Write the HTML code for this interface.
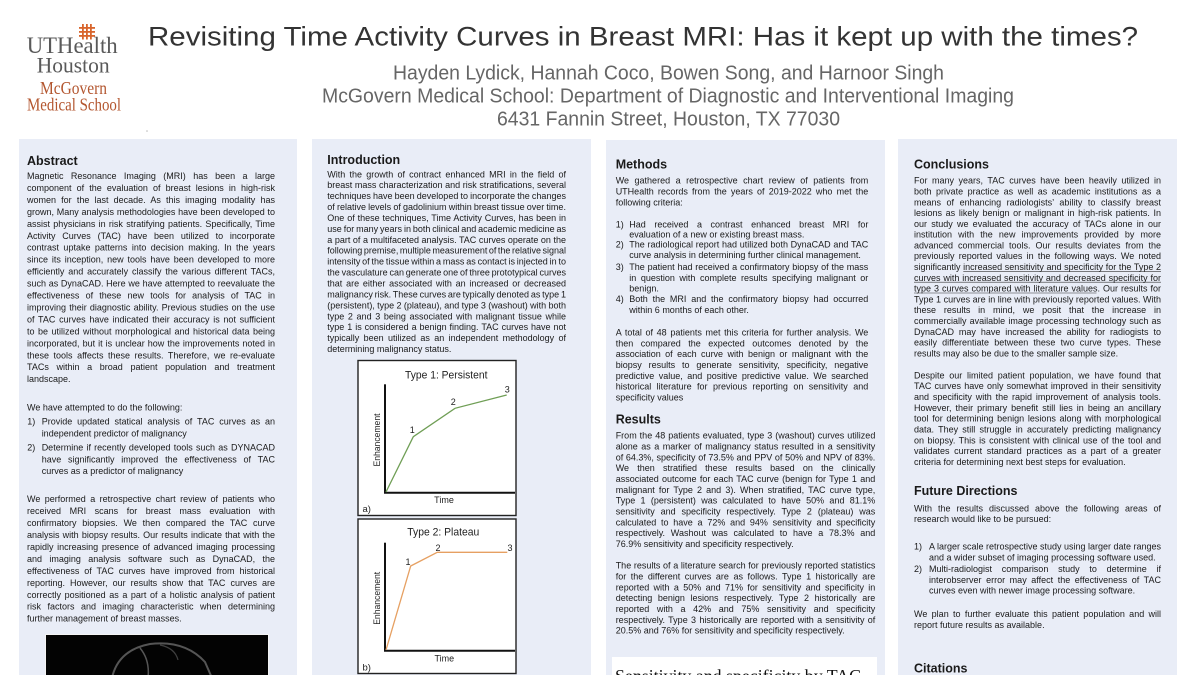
<!DOCTYPE html>
<html>
<head>
<meta charset="utf-8">
<style>
html,body{margin:0;padding:0;background:#fff;}
body{width:1200px;height:675px;overflow:hidden;}
svg{display:block;}
.b{font-family:"Liberation Sans",Arial,sans-serif;font-size:9px;fill:#1a1a1a;}
.h{font-family:"Liberation Sans",Arial,sans-serif;font-size:12.5px;font-weight:bold;fill:#1a1a1a;}
.c{font-family:"Liberation Sans",Arial,sans-serif;fill:#222;}
.s{font-family:"Liberation Serif","Times New Roman",serif;}
</style>
</head>
<body>
<svg width="1200" height="675" viewBox="0 0 1200 675" xmlns="http://www.w3.org/2000/svg">
<rect x="0" y="0" width="1200" height="675" fill="#fff"/>

<!-- Logo -->
<g fill="#d8652d">
<rect x="82" y="24" width="1.8" height="15.5"/>
<rect x="86" y="24" width="1.8" height="15.5"/>
<rect x="90" y="24" width="1.8" height="15.5"/>
<rect x="79" y="27" width="16" height="1.8"/>
<rect x="79" y="31" width="16" height="1.8"/>
<rect x="79" y="35" width="16" height="1.8"/>
</g>
<text class="s" x="26.7" y="53" font-size="23" fill="#595959" textLength="91" lengthAdjust="spacingAndGlyphs">UTHealth</text>
<text class="s" x="36.7" y="72.5" font-size="22" fill="#595959" textLength="73" lengthAdjust="spacingAndGlyphs">Houston</text>
<text class="s" x="40" y="94" font-size="17.5" fill="#b3562f" textLength="67" lengthAdjust="spacingAndGlyphs">McGovern</text>
<text class="s" x="27" y="110.5" font-size="17.5" fill="#b3562f" textLength="94" lengthAdjust="spacingAndGlyphs">Medical School</text>
<circle cx="147" cy="131" r="0.8" fill="#bbb"/>

<!-- Title -->
<text class="c" x="148" y="45.7" font-size="27" style="fill:#333" textLength="990" lengthAdjust="spacingAndGlyphs">Revisiting Time Activity Curves in Breast MRI: Has it kept up with the times?</text>
<text class="c" x="393" y="79.3" font-size="20" style="fill:#666" textLength="551" lengthAdjust="spacingAndGlyphs">Hayden Lydick, Hannah Coco, Bowen Song, and Harnoor Singh</text>
<text class="c" x="322" y="102.3" font-size="20" style="fill:#666" textLength="692" lengthAdjust="spacingAndGlyphs">McGovern Medical School: Department of Diagnostic and Interventional Imaging</text>
<text class="c" x="497" y="125.3" font-size="20" style="fill:#666" textLength="343" lengthAdjust="spacingAndGlyphs">6431 Fannin Street, Houston, TX 77030</text>

<!-- Panels -->
<rect x="19" y="139" width="278" height="540" fill="#e9edf7"/>
<rect x="312" y="139" width="279" height="540" fill="#e9edf7"/>
<rect x="606" y="140" width="279" height="540" fill="#e9edf7"/>
<rect x="898" y="139" width="279" height="540" fill="#e9edf7"/>

<!-- Column 1 -->
<text class="h" x="27" y="165.2">Abstract</text>
<g class="b">
<text x="27" y="179" textLength="248">Magnetic Resonance Imaging (MRI) has been a large</text>
<text x="27" y="191" textLength="248">component of the evaluation of breast lesions in high-risk</text>
<text x="27" y="202.9" textLength="248">women for the last decade. As this imaging modality has</text>
<text x="27" y="214.9" textLength="248">grown, Many analysis methodologies have been developed to</text>
<text x="27" y="226.8" textLength="248">assist physicians in risk stratifying patients. Specifically, Time</text>
<text x="27" y="238.8" textLength="248">Activity Curves (TAC) have been utilized to incorporate</text>
<text x="27" y="250.7" textLength="248">contrast uptake patterns into decision making. In the years</text>
<text x="27" y="262.7" textLength="248">since its inception, new tools have been developed to more</text>
<text x="27" y="274.6" textLength="248">efficiently and accurately classify the various different TACs,</text>
<text x="27" y="286.6" textLength="248">such as DynaCAD. Here we have attempted to reevaluate the</text>
<text x="27" y="298.5" textLength="248">effectiveness of these new tools for analysis of TAC in</text>
<text x="27" y="310.5" textLength="248">improving their diagnostic ability. Previous studies on the use</text>
<text x="27" y="322.4" textLength="248">of TAC curves have indicated their accuracy is not sufficient</text>
<text x="27" y="334.4" textLength="248">to be utilized without morphological and historical data being</text>
<text x="27" y="346.3" textLength="248">incorporated, but it is unclear how the improvements noted in</text>
<text x="27" y="358.3" textLength="248">these tools affects these results. Therefore, we re-evaluate</text>
<text x="27" y="370.2" textLength="248">TACs within a broad patient population and treatment</text>
<text x="27" y="382.2">landscape.</text>

<text x="27" y="410.5">We have attempted to do the following:</text>
<text x="27.3" y="424.7">1)</text>
<text x="41.7" y="424.7" textLength="233.3">Provide updated statical analysis of TAC curves as an</text>
<text x="41.7" y="436.3">independent predictor of malignancy</text>
<text x="27.3" y="450.3">2)</text>
<text x="41.7" y="450.3" textLength="233.3">Determine if recently developed tools such as DYNACAD</text>
<text x="41.7" y="462.7" textLength="233.3">have significantly improved the effectiveness of TAC</text>
<text x="41.7" y="474">curves as a predictor of malignancy</text>

<text x="27" y="502" textLength="248">We performed a retrospective chart review of patients who</text>
<text x="27" y="514" textLength="248">received MRI scans for breast mass evaluation with</text>
<text x="27" y="526" textLength="248">confirmatory biopsies. We then compared the TAC curve</text>
<text x="27" y="537.9" textLength="248">analysis with biopsy results. Our results indicate that with the</text>
<text x="27" y="549.9" textLength="248">rapidly increasing presence of advanced imaging processing</text>
<text x="27" y="561.9" textLength="248">and imaging analysis software such as DynaCAD, the</text>
<text x="27" y="573.8" textLength="248">effectiveness of TAC curves have improved from historical</text>
<text x="27" y="585.8" textLength="248">reporting. However, our results show that TAC curves are</text>
<text x="27" y="597.8" textLength="248">correctly positioned as a part of a holistic analysis of patient</text>
<text x="27" y="609.7" textLength="248">risk factors and imaging characteristic when determining</text>
<text x="27" y="621.7">further management of breast masses.</text>
</g>
<!-- MRI image -->
<rect x="45" y="634" width="224" height="45" fill="#f4f4f4"/>
<rect x="46" y="635" width="222" height="44" fill="#030303"/>
<path d="M112 678 Q118 650 150 644 Q185 640 205 662 L212 678" fill="none" stroke="#6a6a6a" stroke-width="2" opacity="0.8"/>
<path d="M140 648 Q150 660 148 678" fill="none" stroke="#7a7a7a" stroke-width="1.5" opacity="0.7"/>
<path d="M160 645 Q175 648 178 660" fill="none" stroke="#5a5a5a" stroke-width="1.2" opacity="0.7"/>

<!-- Column 2 -->
<text class="h" x="327.3" y="163.8">Introduction</text>
<g class="b">
<text x="327.3" y="177.3" textLength="238.7">With the growth of contract enhanced MRI in the field of</text>
<text x="327.3" y="188.2" textLength="238.7">breast mass characterization and risk stratifications, several</text>
<text x="327.3" y="199.1" textLength="238.7">techniques have been developed to incorporate the changes</text>
<text x="327.3" y="210.1" textLength="238.7">of relative levels of gadolinium within breast tissue over time.</text>
<text x="327.3" y="221" textLength="238.7">One of these techniques, Time Activity Curves, has been in</text>
<text x="327.3" y="231.9" textLength="238.7">use for many years in both clinical and academic medicine as</text>
<text x="327.3" y="242.8" textLength="238.7">a part of a multifaceted analysis. TAC curves operate on the</text>
<text x="327.3" y="253.7" textLength="238.7">following premise, multiple measurement of the relative signal</text>
<text x="327.3" y="264.7" textLength="238.7">intensity of the tissue within a mass as contact is injected in to</text>
<text x="327.3" y="275.6" textLength="238.7">the vasculature can generate one of three prototypical curves</text>
<text x="327.3" y="286.5" textLength="238.7">that are either associated with an increased or decreased</text>
<text x="327.3" y="297.4" textLength="238.7">malignancy risk. These curves are typically denoted as type 1</text>
<text x="327.3" y="308.3" textLength="238.7">(persistent), type 2 (plateau), and type 3 (washout) with both</text>
<text x="327.3" y="319.3" textLength="238.7">type 2 and 3 being associated with malignant tissue while</text>
<text x="327.3" y="330.2" textLength="238.7">type 1 is considered a benign finding. TAC curves have not</text>
<text x="327.3" y="341.1" textLength="238.7">typically been utilized as an independent methodology of</text>
<text x="327.3" y="352">determining malignancy status.</text>
</g>

<!-- Chart a -->
<rect x="358" y="360.5" width="158" height="155" fill="#fff" stroke="#222" stroke-width="1.4"/>
<text class="c" x="405" y="378.3" font-size="11" textLength="82.5" lengthAdjust="spacingAndGlyphs">Type 1: Persistent</text>
<line x1="385" y1="384.3" x2="385" y2="493.5" stroke="#111" stroke-width="2"/>
<line x1="384" y1="492.7" x2="515" y2="492.7" stroke="#111" stroke-width="2"/>
<polyline points="386,492 413.3,436.7 455,408.3 506.7,395" fill="none" stroke="#6f9e55" stroke-width="1.3"/>
<text class="c" x="409.7" y="433" font-size="9">1</text>
<text class="c" x="450.8" y="405" font-size="9">2</text>
<text class="c" x="504.8" y="392.5" font-size="9">3</text>
<text class="c" font-size="9" text-anchor="middle" transform="translate(380,440) rotate(-90)" textLength="53" lengthAdjust="spacingAndGlyphs">Enhancement</text>
<text class="c" x="444" y="503" font-size="9" text-anchor="middle">Time</text>
<text class="c" x="362.5" y="512" font-size="9.5">a)</text>

<!-- Chart b -->
<rect x="358" y="519" width="158" height="154.5" fill="#fff" stroke="#222" stroke-width="1.4"/>
<text class="c" x="407.3" y="535.7" font-size="11" textLength="72" lengthAdjust="spacingAndGlyphs">Type 2: Plateau</text>
<line x1="385" y1="542.7" x2="385" y2="651.5" stroke="#111" stroke-width="2"/>
<line x1="384" y1="650.7" x2="515" y2="650.7" stroke="#111" stroke-width="2"/>
<polyline points="386,650 410.7,566 437.3,552.3 507.3,552.3" fill="none" stroke="#e6a062" stroke-width="1.3"/>
<text class="c" x="405.5" y="565" font-size="9">1</text>
<text class="c" x="435.5" y="551" font-size="9">2</text>
<text class="c" x="507.5" y="551" font-size="9">3</text>
<text class="c" font-size="9" text-anchor="middle" transform="translate(380,598.3) rotate(-90)" textLength="53" lengthAdjust="spacingAndGlyphs">Enhancement</text>
<text class="c" x="444.3" y="661.3" font-size="9" text-anchor="middle">Time</text>
<text class="c" x="362.5" y="670.7" font-size="9.5">b)</text>

<!-- Column 3 -->
<text class="h" x="615.7" y="168.5">Methods</text>
<g class="b">
<text x="615.7" y="183.7" textLength="252.6">We gathered a retrospective chart review of patients from</text>
<text x="615.7" y="194.7" textLength="252.6">UTHealth  records from the years of 2019-2022 who met the</text>
<text x="615.7" y="205.7">following criteria:</text>
<text x="615.7" y="227.3">1)</text>
<text x="629.3" y="227.3" textLength="239">Had received a contrast enhanced breast MRI for</text>
<text x="629.3" y="237.3">evaluation of a new or existing breast mass.</text>
<text x="615.7" y="247.7">2)</text>
<text x="629.3" y="247.7" textLength="239">The radiological report had utilized both DynaCAD and TAC</text>
<text x="629.3" y="258">curve analysis in determining further clinical management.</text>
<text x="615.7" y="270.2">3)</text>
<text x="629.3" y="270.2" textLength="239">The patient had received a confirmatory biopsy of the mass</text>
<text x="629.3" y="280.8" textLength="239">in question with complete results specifying malignant or</text>
<text x="629.3" y="291.5">benign.</text>
<text x="615.7" y="302.2">4)</text>
<text x="629.3" y="302.2" textLength="239">Both the MRI and the confirmatory biopsy had occurred</text>
<text x="629.3" y="313.2">within 6 months of each other.</text>

<text x="615.7" y="335.7" textLength="252.6">A total of 48 patients met this criteria for further analysis. We</text>
<text x="615.7" y="346.5" textLength="252.6">then compared the expected outcomes denoted by the</text>
<text x="615.7" y="357.2" textLength="252.6">association of each curve with benign or malignant with the</text>
<text x="615.7" y="368" textLength="252.6">biopsy results to generate sensitivity, specificity, negative</text>
<text x="615.7" y="378.8" textLength="252.6">predictive value, and positive predictive value. We searched</text>
<text x="615.7" y="389.6" textLength="252.6">historical literature for previous reporting on sensitivity and</text>
<text x="615.7" y="400.3">specificity values</text>
</g>
<text class="h" x="615.7" y="423.5">Results</text>
<g class="b">
<text x="615.7" y="438.7" textLength="259.6">From the 48 patients evaluated, type 3 (washout) curves utilized</text>
<text x="615.7" y="449.5" textLength="259.6">alone as a marker of malignancy status resulted in a sensitivity</text>
<text x="615.7" y="460.4" textLength="259.6">of 64.3%, specificity of 73.5% and PPV of 50% and NPV of 83%.</text>
<text x="615.7" y="471.2" textLength="259.6">We then stratified these results based on the clinically</text>
<text x="615.7" y="482" textLength="259.6">associated outcome for each TAC curve (benign for Type 1 and</text>
<text x="615.7" y="492.9" textLength="259.6">malignant for Type 2 and 3). When stratified, TAC curve type,</text>
<text x="615.7" y="503.7" textLength="259.6">Type 1 (persistent) was calculated to have 50% and 81.1%</text>
<text x="615.7" y="514.5" textLength="259.6">sensitivity and specificity respectively. Type 2 (plateau) was</text>
<text x="615.7" y="525.3" textLength="259.6">calculated to have a 72% and 94% sensitivity and specificity</text>
<text x="615.7" y="536.2" textLength="259.6">respectively. Washout was calculated to have a 78.3% and</text>
<text x="615.7" y="547">76.9% sensitivity and specificity respectively.</text>

<text x="615.7" y="568.7" textLength="259.6">The results of a literature search for previously reported statistics</text>
<text x="615.7" y="579.5" textLength="259.6">for the different curves are as follows. Type 1 historically are</text>
<text x="615.7" y="590.4" textLength="259.6">reported with a 50% and 71% for sensitivity and specificity in</text>
<text x="615.7" y="601.2" textLength="259.6">detecting benign lesions respectively. Type 2 historically are</text>
<text x="615.7" y="612" textLength="259.6">reported with a 42% and 75% sensitivity and specificity</text>
<text x="615.7" y="622.9" textLength="259.6">respectively. Type 3 historically are reported with a sensitivity of</text>
<text x="615.7" y="633.7">20.5% and 76% for sensitivity and specificity respectively.</text>
</g>
<rect x="612" y="657" width="265" height="25" fill="#fff"/>
<text class="s" x="615" y="682" font-size="18" fill="#111" textLength="246" lengthAdjust="spacingAndGlyphs">Sensitivity and specificity by TAC</text>

<!-- Column 4 -->
<text class="h" x="914" y="168.5">Conclusions</text>
<g class="b">
<text x="914" y="183.7" textLength="247">For many years, TAC curves have been heavily utilized in</text>
<text x="914" y="194.5" textLength="247">both private practice as well as academic institutions as a</text>
<text x="914" y="205.3" textLength="247">means of enhancing radiologists’ ability to classify breast</text>
<text x="914" y="216.1" textLength="247">lesions as likely benign or malignant in high-risk patients. In</text>
<text x="914" y="226.9" textLength="247">our study we evaluated the accuracy of TACs alone in our</text>
<text x="914" y="237.7" textLength="247">institution with the new improvements provided by more</text>
<text x="914" y="248.4" textLength="247">advanced commercial tools. Our results deviates from the</text>
<text x="914" y="259.2" textLength="247">previously reported values in the following ways. We noted</text>
<text x="914" y="270" textLength="247">significantly increased sensitivity and specificity for the Type 2</text>
<text x="914" y="280.8" textLength="247">curves with increased sensitivity and decreased specificity for</text>
<text x="914" y="291.6" textLength="247">type 3 curves compared with literature values. Our results for</text>
<text x="914" y="302.4" textLength="247">Type 1 curves are in line with previously reported values. With</text>
<text x="914" y="313.2" textLength="247">these results in mind, we posit that the increase in</text>
<text x="914" y="324" textLength="247">commercially available image processing technology such as</text>
<text x="914" y="334.8" textLength="247">DynaCAD may have increased the ability for radiogists to</text>
<text x="914" y="345.6" textLength="247">easily differentiate between these two curve types. These</text>
<text x="914" y="356.3">results may also be due to the smaller sample size.</text>

<text x="914" y="378.3" textLength="247">Despite our limited patient population, we have found that</text>
<text x="914" y="389.1" textLength="247">TAC curves have only somewhat improved in their sensitivity</text>
<text x="914" y="400" textLength="247">and specificity with the rapid improvement of analysis tools.</text>
<text x="914" y="410.8" textLength="247">However, their primary benefit still lies in being an ancillary</text>
<text x="914" y="421.7" textLength="247">tool for determining benign lesions along with morphological</text>
<text x="914" y="432.5" textLength="247">data. They still struggle in accurately predicting malignancy</text>
<text x="914" y="443.3" textLength="247">on biopsy. This is consistent with clinical use of the tool and</text>
<text x="914" y="454.2" textLength="247">validates current standard practices as a part of a greater</text>
<text x="914" y="465">criteria for determining next best steps for evaluation.</text>
</g>
<g stroke="#333" stroke-width="0.6">
<line x1="963.3" y1="271.4" x2="1161" y2="271.4"/>
<line x1="914" y1="282.2" x2="1161" y2="282.2"/>
<line x1="914" y1="293" x2="1096.5" y2="293"/>
</g>
<text class="h" x="914" y="495.2">Future Directions</text>
<g class="b">
<text x="914" y="511.3" textLength="247">With the results discussed above the following areas of</text>
<text x="914" y="522">research would like to be pursued:</text>
<text x="914" y="549.7">1)</text>
<text x="929" y="549.7" textLength="232">A larger scale retrospective study using larger date ranges</text>
<text x="929" y="560.3">and a wider subset of imaging processing software used.</text>
<text x="914" y="572">2)</text>
<text x="929" y="572" textLength="232">Multi-radiologist comparison study to determine if</text>
<text x="929" y="583" textLength="232">interobserver error may affect the effectiveness of TAC</text>
<text x="929" y="593.7">curves even with newer image processing software.</text>
<text x="914" y="617" textLength="247">We plan to further evaluate this patient population and will</text>
<text x="914" y="628">report future results as available.</text>
</g>
<text class="h" x="914" y="672.5">Citations</text>
</svg>
<script>
(function(){
  try{
    var els=document.querySelectorAll('g.b text[textLength]');
    for(var i=0;i<els.length;i++){
      var t=els[i];
      var L=parseFloat(t.getAttribute('textLength'));
      var words=t.textContent.trim().split(/\s+/);
      var n=words.length-1;
      if(n<1||!isFinite(L))continue;
      t.removeAttribute('textLength');
      var w=t.getComputedTextLength();
      var ws=(L-w)/n;
      if(!isFinite(ws)){t.setAttribute('textLength',L);continue;}
      t.style.wordSpacing=ws.toFixed(2)+'px';
      var w2=t.getComputedTextLength();
      if(Math.abs(w2-L)>3){t.style.wordSpacing='';t.setAttribute('textLength',L);}
    }
  }catch(e){}
})();
</script>
</body>
</html>
